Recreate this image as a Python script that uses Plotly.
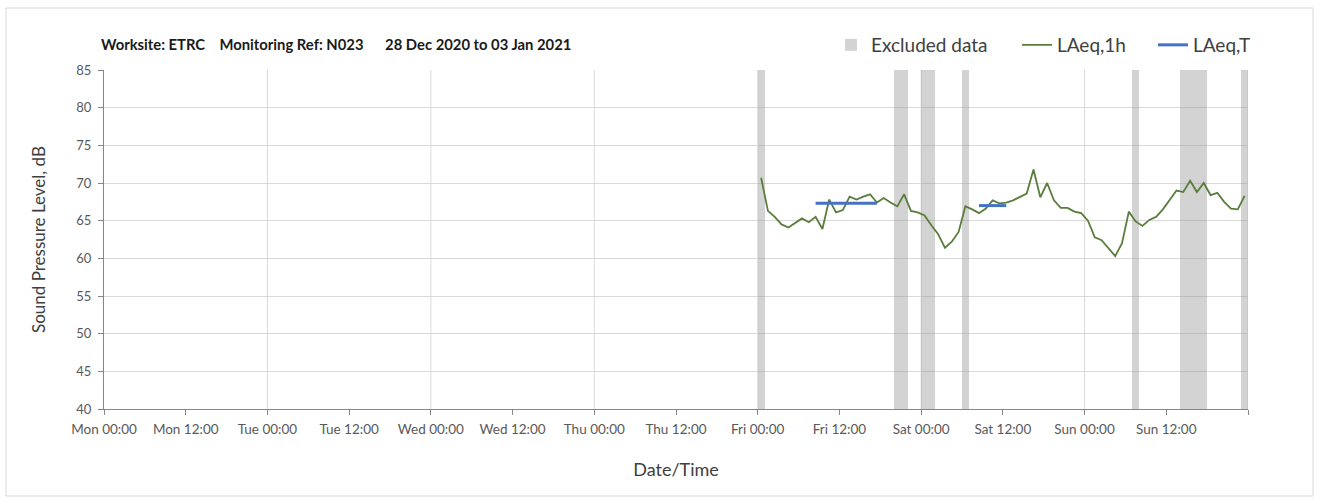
import pandas as pd
import plotly.graph_objects as go

# ---------------- data ----------------
week_start = "2020-12-28 00:00"
week_end = "2021-01-04 00:00"

# hourly LAeq,1h values, one per hour starting Fri 01 Jan 2021 00:00
laeq1h_start = "2021-01-01 00:00"
laeq1h_values = [
    70.7, 66.3, 65.5, 64.5, 64.1, 64.7, 65.3, 64.8, 65.5, 63.9, 67.8, 66.1,
    66.4, 68.2, 67.8, 68.2, 68.5, 67.4, 68.0, 67.4, 66.9, 68.5, 66.3, 66.1,
    65.7, 64.4, 63.2, 61.4, 62.2, 63.5, 66.9, 66.5, 66.0, 66.6, 67.7, 67.3,
    67.4, 67.7, 68.2, 68.6, 71.8, 68.1, 70.0, 67.7, 66.7, 66.7, 66.2, 66.0,
    65.0, 62.8, 62.4, 61.4, 60.3, 62.0, 66.2, 64.9, 64.3, 65.1, 65.5, 66.5,
    67.8, 69.0, 68.8, 70.3, 68.8, 70.0, 68.4, 68.7, 67.5, 66.6, 66.5, 68.3,
]

# LAeq,T periods (first hour, last hour, level)
laeqT_first = ["2021-01-01 08:00", "2021-01-02 08:00"]
laeqT_last = ["2021-01-01 17:00", "2021-01-02 12:00"]
laeqT_values = [67.3, 67.0]

# excluded data periods
excl_start = ["2021-01-01 00:00", "2021-01-01 20:00", "2021-01-02 00:00",
              "2021-01-02 06:00", "2021-01-03 07:00", "2021-01-03 14:00",
              "2021-01-03 23:00"]
excl_end = ["2021-01-01 01:00", "2021-01-01 22:00", "2021-01-02 02:00",
            "2021-01-02 07:00", "2021-01-03 08:00", "2021-01-03 18:00",
            "2021-01-04 00:00"]

y_min, y_max, y_step = 40, 85, 5

series_names = ["Excluded data", "LAeq,1h", "LAeq,T"]
title_text = ("Worksite: ETRC\u00a0\u00a0\u00a0 Monitoring Ref: N023\u00a0\u00a0\u00a0\u00a0\u00a0 "
              "28 Dec 2020 to 03 Jan 2021")
x_title = "Date/Time"
y_title = "Sound Pressure Level, dB"

# ---------------- figure ----------------
W, H = 1320, 502
ML, MR, MT, MB = 104, 72, 70, 93
PW, PH = W - ML - MR, H - MT - MB


def px_x(p):
    return (p - ML) / PW


def px_y(p):
    return (H - MB - p) / PH


half_hour = pd.Timedelta(minutes=30)
hours = pd.date_range(laeq1h_start, periods=len(laeq1h_values), freq="h")
x_1h = hours + half_hour  # plotted at centre of each hour

es = pd.to_datetime(excl_start)
ee = pd.to_datetime(excl_end)
excl_mid = es + (ee - es) / 2
excl_width = [(b - a).total_seconds() * 1000 for a, b in zip(es, ee)]

xT, yT = [], []
for a, b, v in zip(laeqT_first, laeqT_last, laeqT_values):
    xT += [pd.Timestamp(a) + half_hour, pd.Timestamp(b) + half_hour, None]
    yT += [v, v, None]

tick_vals = pd.date_range(week_start, week_end, freq="12h")
tick_text = [t.strftime("%a %H:%M") for t in tick_vals[:-1]] + [""]

font_family = "Lato, 'Open Sans', sans-serif"
fig = go.Figure()

fig.add_trace(go.Bar(
    x=excl_mid, y=[y_max - y_min] * len(excl_mid), base=y_min,
    width=excl_width, name=series_names[0], legend="legend",
    marker=dict(color="rgba(150,150,150,0.42)", line=dict(width=0)),
    hoverinfo="skip",
))
fig.add_trace(go.Scatter(
    x=x_1h, y=laeq1h_values, mode="lines", name=series_names[1], legend="legend2",
    line=dict(color="#5a7d3c", width=1.8),
))
fig.add_trace(go.Scatter(
    x=xT, y=yT, mode="lines", name=series_names[2], legend="legend3",
    line=dict(color="#4472c4", width=3),
))

# day gridlines
for d in pd.date_range(week_start, week_end, freq="D")[1:]:
    fig.add_shape(type="line", xref="x", yref="paper", x0=d, x1=d, y0=0, y1=1,
                  line=dict(color="#d9d9d9", width=1), layer="below")

# outer chart border
fig.add_shape(type="rect", xref="paper", yref="paper",
              x0=px_x(6), x1=px_x(1313), y0=px_y(496), y1=px_y(8),
              line=dict(color="#d9d9d9", width=1), layer="below")

fig.add_annotation(
    text="<b>" + title_text + "</b>", xref="paper", yref="paper",
    x=px_x(99), y=px_y(44), xanchor="left", yanchor="middle",
    showarrow=False, font=dict(size=14.8, color="#1a1a1a", family=font_family),
)

leg_common = dict(orientation="h", xanchor="left", yanchor="middle", y=px_y(45),
                  font=dict(size=19, color="#404040", family=font_family),
                  bgcolor="rgba(0,0,0,0)", borderwidth=0)

fig.update_layout(
    width=W, height=H,
    margin=dict(l=ML, r=MR, t=MT, b=MB, autoexpand=False),
    paper_bgcolor="white", plot_bgcolor="white",
    font=dict(family=font_family, color="#595959", size=13),
    bargap=0,
    showlegend=True,
    legend=dict(x=px_x(872 - 41), **leg_common),
    legend2=dict(x=px_x(1057 - 40), **leg_common),
    legend3=dict(x=px_x(1193 - 40), **leg_common),
    xaxis=dict(
        type="date", range=[week_start, week_end],
        tickmode="array", tickvals=tick_vals, ticktext=tick_text,
        showgrid=False, showline=True, linecolor="#868686", linewidth=1,
        ticks="outside", ticklen=5, tickcolor="#868686", ticklabelstandoff=3,
        tickfont=dict(size=13.5, color="#595959"),
        title=dict(text=x_title, font=dict(size=18, color="#404040"), standoff=27),
        zeroline=False,
    ),
    yaxis=dict(
        range=[y_min, y_max], dtick=y_step, tick0=y_min,
        showgrid=True, gridcolor="#d9d9d9", gridwidth=1,
        showline=True, linecolor="#868686", linewidth=1,
        ticks="outside", ticklen=5, tickcolor="#868686", ticklabelstandoff=4,
        tickfont=dict(size=13, color="#595959"),
        title=dict(text=y_title, font=dict(size=17, color="#404040"), standoff=26),
        zeroline=False,
    ),
)

fig.write_html("out.html", config={"displayModeBar": False},
               post_script="document.body.style.margin='0';")
